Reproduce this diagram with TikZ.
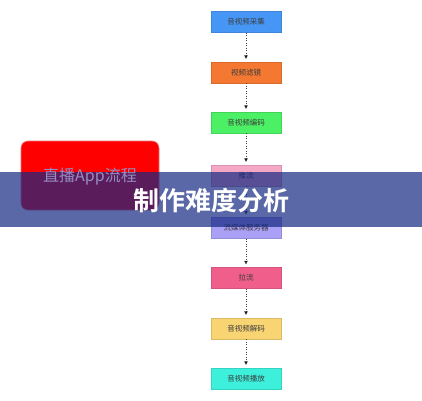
\documentclass[tikz,border=0pt]{standalone}
\usepackage{fontspec}
\newfontfamily\cjk{Noto Sans CJK SC}
\newfontfamily\cjkb{Noto Sans CJK SC Bold}
\usetikzlibrary{arrows.meta}
\definecolor{c1}{RGB}{70,150,245}
\definecolor{c2}{RGB}{245,120,50}
\definecolor{c3}{RGB}{75,240,100}
\definecolor{c4}{RGB}{245,168,198}
\definecolor{c5}{RGB}{170,160,245}
\definecolor{c6}{RGB}{240,95,140}
\definecolor{c7}{RGB}{248,212,115}
\definecolor{c8}{RGB}{60,240,220}
\definecolor{boxtext}{RGB}{60,60,60}
\definecolor{bannerc}{RGB}{20,40,130}
\definecolor{redtext}{RGB}{150,140,195}
\tikzset{
  flowbox/.style={draw=#1!88!black, line width=0.4pt, fill=#1, minimum width=70pt, minimum height=21pt, inner sep=0pt, font=\cjk\fontsize{7.5}{8}\selectfont, text=boxtext},
  flowarrow/.style={dotted, draw=black!75, line width=0.5pt, -{Triangle[length=3.5pt,width=3.5pt,fill=black]}, shorten >=3pt}
}
\begin{document}
\begin{tikzpicture}[x=1pt,y=1pt]
\useasboundingbox (0,0) rectangle (422,400);
\fill[white] (0,0) rectangle (422,400);
\node[flowbox=c1] (b1) at (246,378) {音视频采集};
\node[flowbox=c2] (b2) at (246,327.5) {视频滤镜};
\node[flowbox=c3] (b3) at (246,277.5) {音视频编码};
\node[flowbox=c4] (b4) at (246,224.5) {推流};
\node[flowbox=c5] (b5) at (246,172) {流媒体服务器};
\node[flowbox=c6] (b6) at (246,122) {拉流};
\node[flowbox=c7] (b7) at (246,71.5) {音视频解码};
\node[flowbox=c8] (b8) at (246,21.5) {音视频播放};
\foreach \a/\b in {b1/b2,b2/b3,b3/b4,b4/b5,b5/b6,b6/b7,b7/b8}
  \draw[flowarrow] (\a) -- (\b);
\node[draw={rgb,255:red,240;green,120;blue,120}, line width=0.6pt, fill=red, rounded corners=7pt, minimum width=138pt, minimum height=69pt] (app) at (90,224.5) {};
\fill[bannerc, opacity=0.7] (0,173) rectangle (422,228);
\node[text=redtext, font=\cjk\fontsize{16}{18}\selectfont] (apptext) at (90,223) {直播App流程};
\node[text=white, font=\cjkb\fontsize{26}{29}\selectfont] (title) at (211,199) {制作难度分析};
\end{tikzpicture}
\end{document}
